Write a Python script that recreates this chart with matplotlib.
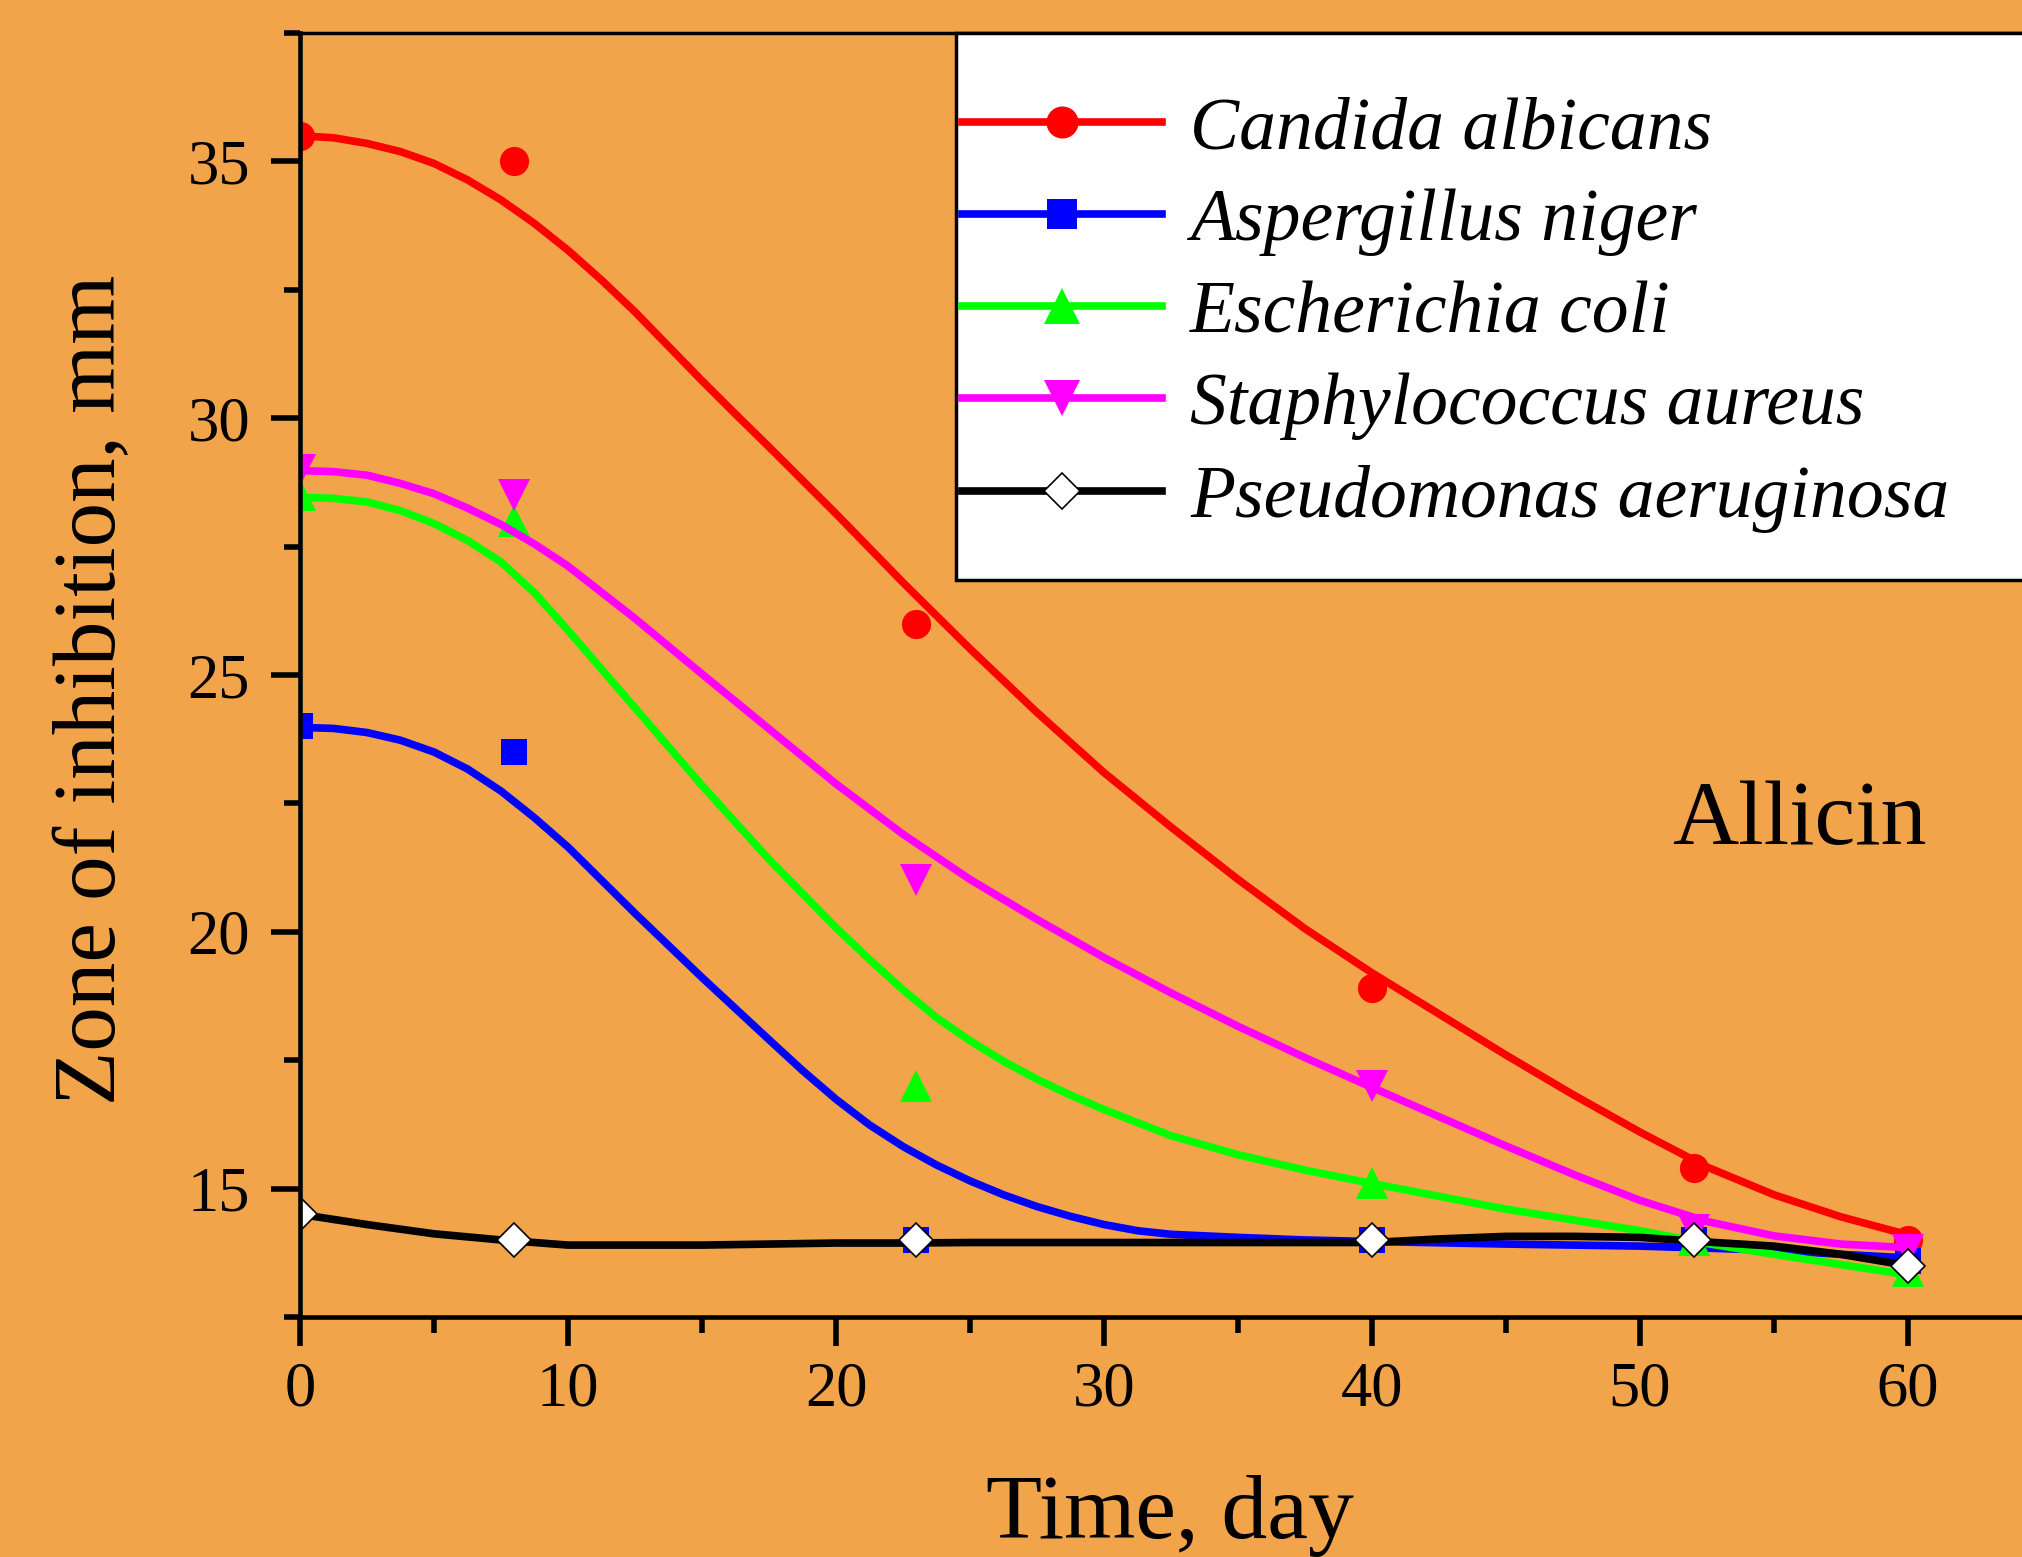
import matplotlib.pyplot as plt
from matplotlib.lines import Line2D
from matplotlib.patches import Rectangle
from matplotlib.ticker import MultipleLocator

plt.rcParams['font.family'] = ['Liberation Serif', 'DejaVu Serif']

# measured points
days = [0, 8, 23, 40, 52, 60]
candida = [35.5, 35.0, 26.0, 18.9, 15.4, 14.0]
aspergillus = [24.0, 23.5, 14.0, 14.0, 14.0, 13.6]
ecoli = [28.5, 28.0, 17.0, 15.1, 14.0, 13.4]
staph = [29.0, 28.5, 21.0, 17.0, 14.2, 13.8]
pseudo = [14.5, 14.0, 14.0, 14.0, 14.0, 13.5]

# fitted curves (denser where they bend)
candida_fit_x = [0, 1.25, 2.5, 3.75, 5, 6.25, 7.5, 8.75, 10, 11.25, 12.5,
                 13.75, 15, 16.25, 17.5, 20, 22.5, 25, 27.5, 30, 32.5, 35,
                 37.5, 40, 42.5, 45, 47.5, 50, 52.5, 55, 57.5, 60]
candida_fit = [35.5, 35.46, 35.35, 35.19, 34.96, 34.64, 34.25, 33.79, 33.27,
               32.69, 32.07, 31.4, 30.73, 30.08, 29.44, 28.14, 26.8, 25.51,
               24.27, 23.1, 22.04, 21.02, 20.06, 19.2, 18.4, 17.6, 16.83,
               16.1, 15.42, 14.88, 14.45, 14.1]

aspergillus_fit_x = [0, 1.25, 2.5, 3.75, 5, 6.25, 7.5, 8.75, 10, 12.5, 15,
                     17.5, 18.75, 20, 21.25, 22.5, 23.75, 25, 26.25, 27.5,
                     28.75, 30, 31.25, 32.5, 35, 37.5, 40, 45, 50, 55, 57.5, 60]
aspergillus_fit = [23.98, 23.96, 23.88, 23.73, 23.5, 23.17, 22.74, 22.22,
                   21.65, 20.36, 19.11, 17.9, 17.3, 16.74, 16.24, 15.82,
                   15.46, 15.15, 14.88, 14.65, 14.46, 14.3, 14.18, 14.11,
                   14.05, 14.0, 13.97, 13.92, 13.88, 13.8, 13.72, 13.65]

ecoli_fit_x = [0, 1.25, 2.5, 3.75, 5, 6.25, 7.5, 8.75, 10, 12.5, 15, 17.5,
               20, 21.25, 22.5, 23.75, 25, 26.25, 27.5, 28.75, 30, 32.5, 35,
               37.5, 40, 42.5, 45, 47.5, 50, 52.5, 55, 57.5, 60]
ecoli_fit = [28.46, 28.44, 28.37, 28.2, 27.95, 27.62, 27.2, 26.6, 25.87,
             24.36, 22.85, 21.41, 20.08, 19.46, 18.87, 18.33, 17.88, 17.48,
             17.13, 16.82, 16.54, 16.03, 15.66, 15.36, 15.1, 14.85, 14.6,
             14.39, 14.18, 13.93, 13.72, 13.52, 13.32]

staph_fit_x = [0, 1.25, 2.5, 3.75, 5, 6.25, 7.5, 8.75, 10, 12.5, 15, 17.5,
               20, 22.5, 25, 27.5, 30, 32.5, 35, 37.5, 40, 42.5, 45, 47.5,
               50, 52.5, 55, 57.5, 60]
staph_fit = [28.98, 28.96, 28.89, 28.73, 28.53, 28.25, 27.93, 27.55, 27.12,
             26.1, 25.02, 23.95, 22.88, 21.9, 21.02, 20.24, 19.5, 18.81,
             18.16, 17.55, 16.97, 16.4, 15.83, 15.28, 14.77, 14.36, 14.08,
             13.92, 13.85]

pseudo_fit_x = [0, 2.5, 5, 7.5, 10, 12.5, 15, 17.5, 20, 22.5, 25, 27.5, 30,
                32.5, 35, 37.5, 40, 42.5, 45, 47.5, 50, 52.5, 55, 57.5, 60]
pseudo_fit = [14.5, 14.3, 14.12, 14.0, 13.9, 13.9, 13.9, 13.92, 13.94, 13.94,
              13.95, 13.95, 13.95, 13.95, 13.95, 13.95, 13.95, 14.02, 14.07,
              14.07, 14.05, 13.96, 13.88, 13.72, 13.5]

labels = ['Candida albicans', 'Aspergillus niger', 'Escherichia coli',
          'Staphylococcus aureus', 'Pseudomonas aeruginosa']

bg = '#f2a44a'
W, H = 2022, 1557

fig = plt.figure(figsize=(W / 100, H / 100), dpi=100, facecolor=bg)
ax = fig.add_axes([300 / W, 240 / H, 1722 / W, 1284 / H])
ax.set_facecolor(bg)

series = [
    (candida, candida_fit_x, candida_fit, '#ff0000', 'o', 21, '#ff0000', '#ff0000'),
    (aspergillus, aspergillus_fit_x, aspergillus_fit, '#0000ff', 's', 19, '#0000ff', '#0000ff'),
    (ecoli, ecoli_fit_x, ecoli_fit, '#00ff00', '^', 23, '#00ff00', '#00ff00'),
    (staph, staph_fit_x, staph_fit, '#ff00ff', 'v', 23, '#ff00ff', '#ff00ff'),
    (pseudo, pseudo_fit_x, pseudo_fit, 'black', 'D', 17, 'white', 'black'),
]

handles = []
for pts, fx, fit, col, mk, ms, mfc, mec in series:
    ax.plot(fx, fit, color=col, lw=5.5, solid_capstyle='butt',
            solid_joinstyle='round')
    ax.plot(days, pts, ls='none', marker=mk, ms=ms, mfc=mfc, mec=mec,
            mew=1.2 if mk == 'D' else 0)
    handles.append(Line2D([], [], color=col, lw=5.5, marker=mk,
                          ms=ms * 1.1, mfc=mfc, mec=mec,
                          mew=1.2 if mk == 'D' else 0))

ax.set_xlim(0, 1722 / 26.8)
ax.set_ylim(12.5, 37.5)
ax.xaxis.set_major_locator(MultipleLocator(10))
ax.xaxis.set_minor_locator(MultipleLocator(5))
ax.yaxis.set_major_locator(MultipleLocator(5))
ax.yaxis.set_minor_locator(MultipleLocator(2.5))
ax.set_yticks([15, 20, 25, 30, 35])

ax.spines['right'].set_visible(False)
ax.spines['top'].set_linewidth(2.5)
for s in ['left', 'bottom']:
    ax.spines[s].set_linewidth(3.3)
ax.tick_params(which='major', direction='out', length=21, width=4,
               labelsize=45, top=False, right=False)
ax.tick_params(which='minor', direction='out', length=11.5, width=4,
               top=False, right=False)
ax.tick_params(axis='y', which='major', pad=15)
ax.tick_params(axis='x', which='major', pad=11)

ax.text(51.2, 21.7, 'Allicin', fontsize=66, ha='left', va='baseline')

fig.text(1170 / W, 1 - 1538 / H, 'Time, day', fontsize=66,
         ha='center', va='baseline')
fig.text(115 / W, 1 - 690 / H, 'Zone of inhibition, mm', fontsize=64,
         rotation=90, rotation_mode='anchor', ha='center', va='baseline')

# white legend box running off the right edge
fig.add_artist(Rectangle((956 / W, 1 - 580 / H), 0.6, 547 / H,
                         transform=fig.transFigure, fc='white', ec='black',
                         lw=2.5, zorder=1))
fig.legend(handles, labels, loc='upper left',
           bbox_to_anchor=(962 / W, 1 - 96.5 / H), frameon=False,
           prop=dict(style='italic', size=53), handlelength=2.72,
           handletextpad=0.38, labelspacing=0.333, borderpad=0,
           borderaxespad=0)

fig.savefig('out.png', dpi=100, facecolor=bg)
